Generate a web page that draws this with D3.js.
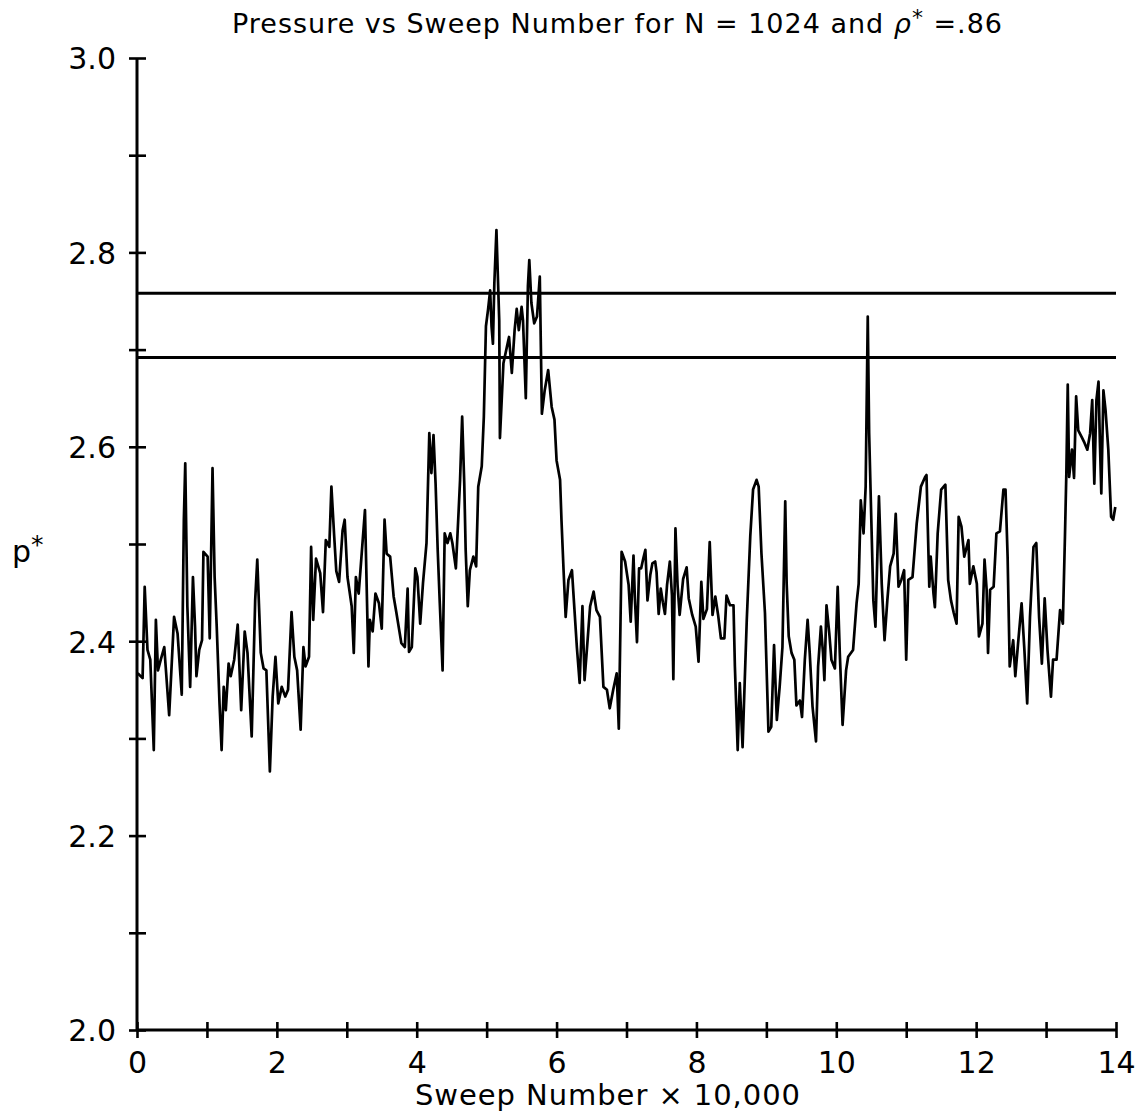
<!DOCTYPE html>
<html>
<head>
<meta charset="utf-8">
<script src="https://cdn.jsdelivr.net/npm/d3@7"></script>
<style>
  html, body { margin: 0; padding: 0; background: #fff; }
  svg { display: block; }
  text { font-family: "DejaVu Sans", "Liberation Sans", sans-serif; fill: #000; }
</style>
</head>
<body>
<svg id="chart" width="1141" height="1118"></svg>
<script>
// Sweep number (units of 10,000) and reduced pressure p* along the run
const sweep = [
  0.01,0.08,0.11,0.15,0.19,0.24,0.27,0.30,0.34,0.39,0.41,0.46,0.53,0.58,0.64,0.67,0.69,0.72,0.76,0.80,
  0.83,0.85,0.89,0.93,0.95,1.01,1.04,1.08,1.11,1.14,1.18,1.21,1.24,1.27,1.31,1.34,1.39,1.44,1.49,1.54,
  1.58,1.64,1.69,1.72,1.77,1.81,1.85,1.90,1.94,1.98,2.02,2.07,2.12,2.16,2.21,2.25,2.29,2.34,2.38,2.41,
  2.46,2.49,2.52,2.56,2.62,2.66,2.70,2.75,2.78,2.82,2.85,2.89,2.94,2.97,3.01,3.07,3.10,3.13,3.17,3.21,
  3.26,3.31,3.33,3.37,3.41,3.46,3.50,3.54,3.57,3.62,3.67,3.71,3.78,3.83,3.87,3.89,3.93,3.98,4.01,4.05,
  4.09,4.14,4.18,4.21,4.24,4.27,4.30,4.33,4.37,4.40,4.44,4.48,4.51,4.56,4.60,4.62,4.65,4.68,4.70,4.73,
  4.76,4.81,4.85,4.88,4.93,4.96,4.99,5.02,5.05,5.07,5.09,5.11,5.14,5.18,5.19,5.24,5.29,5.32,5.36,5.40,
  5.43,5.46,5.50,5.52,5.56,5.59,5.61,5.64,5.68,5.72,5.76,5.79,5.83,5.88,5.93,5.97,6.00,6.05,6.07,6.10,
  6.13,6.17,6.22,6.25,6.29,6.33,6.37,6.40,6.43,6.48,6.53,6.57,6.62,6.67,6.72,6.76,6.81,6.86,6.89,6.93,
  6.98,7.03,7.06,7.10,7.12,7.15,7.18,7.21,7.24,7.27,7.30,7.34,7.37,7.41,7.43,7.46,7.49,7.52,7.55,7.58,
  7.62,7.65,7.67,7.70,7.73,7.76,7.81,7.86,7.89,7.94,7.99,8.03,8.07,8.10,8.15,8.19,8.23,8.27,8.31,8.35,
  8.40,8.43,8.48,8.53,8.55,8.59,8.62,8.66,8.68,8.72,8.77,8.81,8.86,8.89,8.93,8.98,9.03,9.07,9.11,9.15,
  9.19,9.23,9.27,9.29,9.32,9.36,9.40,9.43,9.48,9.51,9.55,9.59,9.62,9.66,9.71,9.74,9.78,9.81,9.83,9.86,
  9.90,9.93,9.98,10.02,10.05,10.09,10.14,10.17,10.24,10.29,10.32,10.35,10.39,10.42,10.45,10.47,10.49,10.53,10.56,10.61,
  10.65,10.69,10.73,10.77,10.82,10.85,10.89,10.93,10.97,11.00,11.03,11.09,11.15,11.21,11.27,11.29,11.33,11.35,11.39,11.41,
  11.45,11.50,11.56,11.60,11.64,11.68,11.72,11.75,11.79,11.83,11.89,11.91,11.96,12.01,12.04,12.09,12.12,12.15,12.17,12.20,
  12.25,12.29,12.34,12.39,12.42,12.45,12.48,12.53,12.56,12.60,12.65,12.69,12.73,12.77,12.82,12.86,12.90,12.94,12.98,13.02,
  13.07,13.10,13.15,13.20,13.24,13.27,13.29,13.31,13.33,13.37,13.40,13.43,13.46,13.51,13.55,13.59,13.63,13.66,13.69,13.72,
  13.75,13.77,13.79,13.82,13.85,13.89,13.93,13.96,13.99
];

const pressure = [
  2.367,2.362,2.456,2.391,2.381,2.288,2.422,2.370,2.381,2.394,2.374,2.324,2.425,2.408,2.345,2.525,2.583,2.436,2.353,2.466,
  2.415,2.364,2.391,2.401,2.492,2.487,2.403,2.578,2.466,2.415,2.336,2.288,2.353,2.329,2.377,2.364,2.381,2.417,2.329,2.410,
  2.388,2.302,2.442,2.484,2.388,2.372,2.370,2.266,2.343,2.384,2.336,2.353,2.343,2.350,2.430,2.384,2.370,2.309,2.394,2.374,
  2.384,2.497,2.422,2.485,2.470,2.430,2.504,2.497,2.559,2.508,2.472,2.461,2.514,2.525,2.466,2.436,2.388,2.466,2.449,2.487,
  2.535,2.374,2.422,2.410,2.449,2.439,2.413,2.525,2.490,2.487,2.446,2.429,2.398,2.394,2.454,2.389,2.394,2.475,2.466,2.418,
  2.460,2.501,2.614,2.573,2.612,2.562,2.494,2.439,2.370,2.511,2.501,2.511,2.501,2.475,2.535,2.566,2.631,2.562,2.494,2.436,
  2.473,2.487,2.477,2.559,2.580,2.631,2.724,2.741,2.761,2.724,2.706,2.768,2.823,2.730,2.609,2.686,2.703,2.713,2.676,2.720,
  2.742,2.720,2.744,2.730,2.650,2.765,2.792,2.748,2.727,2.734,2.775,2.634,2.658,2.679,2.641,2.628,2.586,2.566,2.525,2.473,
  2.425,2.463,2.473,2.439,2.394,2.357,2.436,2.360,2.388,2.436,2.451,2.432,2.425,2.353,2.350,2.331,2.350,2.367,2.310,2.492,
  2.482,2.458,2.420,2.488,2.444,2.399,2.475,2.475,2.485,2.494,2.442,2.468,2.480,2.482,2.471,2.428,2.454,2.440,2.428,2.458,
  2.482,2.447,2.361,2.516,2.458,2.427,2.464,2.476,2.444,2.427,2.415,2.379,2.461,2.423,2.433,2.502,2.427,2.446,2.427,2.403,
  2.403,2.447,2.437,2.437,2.374,2.288,2.357,2.291,2.336,2.422,2.508,2.556,2.566,2.559,2.490,2.429,2.307,2.312,2.396,2.319,
  2.353,2.394,2.544,2.460,2.405,2.388,2.381,2.334,2.339,2.322,2.381,2.422,2.388,2.333,2.297,2.374,2.415,2.388,2.360,2.437,
  2.408,2.381,2.372,2.456,2.388,2.314,2.370,2.384,2.391,2.439,2.459,2.545,2.511,2.559,2.734,2.614,2.556,2.442,2.415,2.549,
  2.459,2.401,2.442,2.477,2.490,2.531,2.456,2.463,2.473,2.381,2.463,2.466,2.521,2.559,2.569,2.571,2.456,2.487,2.449,2.435,
  2.511,2.556,2.561,2.463,2.442,2.429,2.418,2.528,2.518,2.487,2.504,2.459,2.477,2.459,2.405,2.418,2.484,2.453,2.388,2.453,
  2.456,2.511,2.513,2.556,2.556,2.487,2.374,2.401,2.364,2.398,2.439,2.391,2.336,2.425,2.497,2.501,2.425,2.377,2.444,2.391,
  2.343,2.381,2.381,2.432,2.418,2.508,2.573,2.664,2.569,2.597,2.568,2.652,2.617,2.610,2.604,2.597,2.614,2.648,2.562,2.648,
  2.667,2.604,2.552,2.658,2.638,2.597,2.528,2.525,2.538
];

// Two reference pressure levels drawn across the whole run
const refLevels = [2.758, 2.692];

// Axis ticks
const yTicks = [2.0, 2.1, 2.2, 2.3, 2.4, 2.5, 2.6, 2.7, 2.8, 2.9, 3.0];
const yTickLabels = ["2.0", "2.2", "2.4", "2.6", "2.8", "3.0"];
const xTicks = [0, 1, 2, 3, 4, 5, 6, 7, 8, 9, 10, 11, 12, 13, 14];
const xTickLabels = ["0", "2", "4", "6", "8", "10", "12", "14"];

const svg = d3.select("#chart");
const plotL = 137, plotR = 1116, plotT = 58, plotB = 1030;

const x = d3.scaleLinear().domain([0, 14]).range([plotL, plotR]);
const y = d3.scaleLinear().domain([2.0, 3.0]).range([plotB, plotT]);

svg.append("rect").attr("width", 1141).attr("height", 1118).attr("fill", "#fff");

// Y axis with ticks crossing the spine
const yAxis = svg.append("g")
  .attr("transform", `translate(${plotL},0)`)
  .call(d3.axisLeft(y).tickValues(yTicks).tickSize(8).tickPadding(13)
    .tickFormat(d => yTickLabels.includes(d.toFixed(1)) ? d.toFixed(1) : ""));
yAxis.select(".domain").attr("stroke", "#000").attr("stroke-width", 3)
  .attr("d", `M0,${plotB}V${plotT}`);
yAxis.selectAll(".tick line").attr("x1", 9).attr("stroke", "#000").attr("stroke-width", 2.6);
yAxis.selectAll(".tick text").style("font-size", "30px").attr("dy", "0.36em");

// X axis with ticks crossing the spine
const xAxis = svg.append("g")
  .attr("transform", `translate(0,${plotB})`)
  .call(d3.axisBottom(x).tickValues(xTicks).tickSize(8).tickPadding(14)
    .tickFormat(d => xTickLabels.includes(String(d)) ? String(d) : ""));
xAxis.select(".domain").attr("stroke", "#000").attr("stroke-width", 3)
  .attr("d", `M${plotL},0H${plotR}`);
xAxis.selectAll(".tick line").attr("y1", -8).attr("stroke", "#000").attr("stroke-width", 2.6);
xAxis.selectAll(".tick text").style("font-size", "30px");

// Reference levels
svg.append("g").selectAll("line").data(refLevels).join("line")
  .attr("x1", plotL).attr("x2", plotR)
  .attr("y1", d => y(d)).attr("y2", d => y(d))
  .attr("stroke", "#000").attr("stroke-width", 3);

// Pressure trace
const series = sweep.map((s, i) => [s, pressure[i]]);
svg.append("path")
  .datum(series)
  .attr("fill", "none")
  .attr("stroke", "#000")
  .attr("stroke-width", 2.7)
  .attr("stroke-linejoin", "round")
  .attr("d", d3.line().x(d => x(d[0])).y(d => y(d[1])));

// Title
const title = svg.append("text")
  .attr("x", 232).attr("y", 33)
  .attr("textLength", 770).attr("lengthAdjust", "spacing")
  .style("font-size", "27px");
title.append("tspan").text("Pressure vs Sweep Number for N = 1024 and ");
title.append("tspan").style("font-style", "italic").text("ρ");
title.append("tspan").attr("dy", -8).style("font-size", "22px").text("*");
title.append("tspan").attr("dy", 8).text(" =.86");

// Axis titles
svg.append("text")
  .attr("x", 415).attr("y", 1105)
  .attr("textLength", 385).attr("lengthAdjust", "spacing")
  .style("font-size", "29px")
  .text("Sweep Number × 10,000");

const yLab = svg.append("text")
  .attr("x", 12).attr("y", 562)
  .style("font-size", "30px");
yLab.append("tspan").text("p");
yLab.append("tspan").attr("dy", -9).style("font-size", "25px").text("*");
</script>
</body>
</html>
